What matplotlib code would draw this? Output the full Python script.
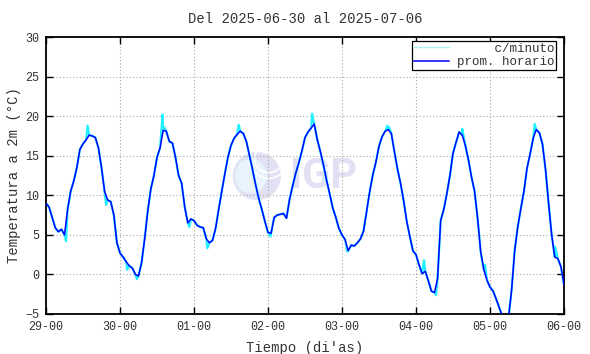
import matplotlib.pyplot as plt
from matplotlib.lines import Line2D
from matplotlib.patches import Ellipse

# hourly mean temperature, 2025-06-29 00h .. 2025-07-06 00h (169 values)
hourly_temp = [
    9.0, 8.5, 7.2, 5.9, 5.4, 5.7, 5.0, 8.2, 10.5, 11.8, 13.5, 15.8,
    16.5, 17.0, 17.6, 17.5, 17.3, 16.0, 13.5, 10.5, 9.4, 9.2, 7.5, 4.0,
    2.7, 2.2, 1.6, 1.1, 0.8, 0.0, -0.2, 1.5, 4.5, 8.0, 10.8, 12.5,
    14.8, 16.0, 18.2, 18.1, 16.8, 16.6, 14.8, 12.5, 11.5, 8.5, 6.5, 7.0,
    6.8, 6.2, 6.0, 5.9, 4.5, 4.0, 4.3, 5.8, 8.2, 10.5, 12.7, 14.8,
    16.3, 17.2, 17.7, 18.1, 17.8, 16.8, 15.0, 13.2, 11.3, 9.6, 8.2, 6.7,
    5.3, 5.2, 7.2, 7.5, 7.6, 7.7, 7.1, 9.5, 11.2, 12.8, 14.1, 15.6,
    17.3, 18.0, 18.5, 19.0, 17.0, 15.5, 13.8, 11.9, 10.2, 8.4, 7.2, 5.8,
    5.0, 4.4, 3.0, 3.7, 3.6, 4.0, 4.5, 5.5, 8.0, 10.5, 12.6, 14.2,
    16.2, 17.4, 18.1, 18.3, 17.8, 15.5, 13.3, 11.5, 9.3, 6.7, 4.8, 3.0,
    2.5, 1.2, 0.1, 0.4, -0.8, -2.1, -2.3, -0.5, 6.8, 8.2, 10.2, 12.5,
    15.3, 16.7, 18.0, 17.6, 16.3, 14.5, 12.3, 10.5, 7.0, 2.8, 0.6, -0.7,
    -1.6, -2.1, -3.1, -4.2, -5.3, -5.8, -5.5, -2.0, 3.0, 6.0, 8.3, 10.5,
    13.4, 15.2, 17.2, 18.3, 17.9, 16.5, 13.3, 9.0, 5.0, 2.2, 2.0, 1.0,
    -1.3,
]
hours = list(range(len(hourly_temp)))

# per-minute readings that stick out of the hourly curve (hour, degC)
minute_hours = [6.5, 13.5, 19.5, 26.3, 29.5, 37.8, 38.3, 46.5, 52.3, 62.5,
                72.8, 86.3, 86.8, 97.7, 110.7, 111.3, 122.6, 126.5, 135.0,
                142.4, 158.5, 165.1]
minute_temp = [4.2, 18.8, 8.8, 0.6, -0.6, 20.2, 18.6, 6.0, 3.3, 18.9,
               4.8, 20.3, 19.3, 2.9, 18.8, 18.6, 1.8, -2.6, 18.4,
               1.2, 19.0, 3.5]

tick_hours = [0, 24, 48, 72, 96, 120, 144, 168]
tick_labels = ["29-00", "30-00", "01-00", "02-00", "03-00", "04-00", "05-00", "06-00"]
y_ticks = [-5, 0, 5, 10, 15, 20, 25, 30]

FONT = ["Liberation Mono", "DejaVu Sans Mono"]
TXT = "#333333"

plt.rcParams["font.family"] = FONT

fig = plt.figure(figsize=(5.9, 3.54), dpi=100)
ax = fig.add_axes([46 / 590, 1 - 314 / 354, 518 / 590, 277 / 354])

# watermark logo
logo_kw = dict(transform=ax.transAxes, zorder=0.1, linewidth=0)
ax.add_patch(Ellipse((0.407, 0.498), 0.093, 0.173, facecolor="#e1e1f3", **logo_kw))
ax.add_patch(Ellipse((0.396, 0.498), 0.062, 0.125, facecolor="#e9f3fb", **logo_kw))
for w, h in [(0.075, 0.14), (0.055, 0.10)]:
    ax.add_patch(Ellipse((0.43, 0.56), w, h, facecolor="none", edgecolor="white",
                         transform=ax.transAxes, zorder=0.15, linewidth=1.2))
ax.text(0.535, 0.495, "IGP", transform=ax.transAxes, ha="center", va="center",
        fontsize=30, fontweight="bold", family="Roboto", color="#e1e1f3", zorder=0.1)

# c/minuto: hourly curve plus the minute readings that deviate from it
pts = sorted(zip(hours + minute_hours, hourly_temp + minute_temp))
ax.plot([p[0] for p in pts], [p[1] for p in pts], color="#20f0ff", lw=1.6, zorder=2)
ax.plot(hours, hourly_temp, color="#0000ff", lw=1.1, zorder=3)

ax.set_xlim(0, 168)
ax.set_ylim(-5, 30)
ax.set_xticks(tick_hours)
ax.set_xticklabels(tick_labels)
ax.set_yticks(y_ticks)
ax.grid(True, color="#a8a8a8", linestyle=(0, (1, 2)), linewidth=0.8)
ax.set_axisbelow(True)
ax.tick_params(direction="in", length=5, width=1, top=True, right=True,
               labelsize=8.5, labelcolor=TXT, pad=5)
for s in ax.spines.values():
    s.set_linewidth(1.3)

ax.set_title("Del 2025-06-30 al 2025-07-06", fontsize=10, color=TXT, pad=10)
ax.set_xlabel("Tiempo (di'as)", fontsize=10, color=TXT, labelpad=6)
ax.set_ylabel("Temperatura a 2m (°C)", fontsize=10, color=TXT, labelpad=3)

handles = [Line2D([], [], color="#b0f4f4", lw=1.0),
           Line2D([], [], color="#0000ff", lw=1.1)]
leg = ax.legend(handles, ["     c/minuto", "prom. horario"], loc="upper right",
                bbox_to_anchor=(0.985, 0.986), borderaxespad=0, fancybox=False,
                framealpha=1, edgecolor="black", fontsize=9, handlelength=2.8,
                handletextpad=0.6, borderpad=0.15, labelspacing=0.1)
leg.get_frame().set_linewidth(0.9)
for t in leg.get_texts():
    t.set_color(TXT)

fig.savefig("out.png", dpi=100)
